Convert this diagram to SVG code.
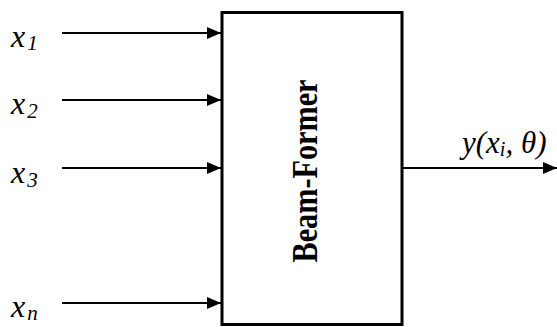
<svg xmlns="http://www.w3.org/2000/svg" width="557" height="327" viewBox="0 0 557 327">
  <defs>
    <marker id="arrow" viewBox="0 0 14 12" refX="14" refY="6" markerWidth="14" markerHeight="12" markerUnits="userSpaceOnUse" orient="auto">
      <path d="M0,0 L14,6 L0,12 Z" fill="#000"/>
    </marker>
  </defs>

  <g id="connectors" stroke="#000" stroke-width="2" fill="none" marker-end="url(#arrow)">
    <line x1="62" y1="33" x2="221" y2="33"/>
    <line x1="62" y1="100" x2="221" y2="100"/>
    <line x1="62" y1="168" x2="221" y2="168"/>
    <line x1="62" y1="303" x2="221" y2="303"/>
    <line x1="403" y1="168" x2="557" y2="168"/>
  </g>

  <g id="beamformer">
    <rect x="222" y="12.5" width="180" height="312" fill="#fff" stroke="#000" stroke-width="3"/>
    <text font-family="Liberation Serif" font-weight="bold" font-size="36" transform="translate(317,171) rotate(-90)" text-anchor="middle" textLength="183" lengthAdjust="spacingAndGlyphs">Beam-Former</text>
  </g>

  <g font-family="Liberation Serif" font-style="italic" font-size="32" fill="#000">
    <g id="input-x1"><text x="11" y="47">x<tspan font-size="21" dx="2" dy="3">1</tspan></text></g>
    <g id="input-x2"><text x="11" y="114">x<tspan font-size="21" dx="2" dy="4">2</tspan></text></g>
    <g id="input-x3"><text x="11" y="183">x<tspan font-size="21" dx="2" dy="4">3</tspan></text></g>
    <g id="input-xn"><text x="11" y="317">x<tspan font-size="21" dx="2" dy="3">n</tspan></text></g>
    <g id="output-y"><text x="462" y="153" font-size="31">y(x<tspan font-size="20" dy="3">i</tspan><tspan dy="-3">, θ)</tspan></text></g>
  </g>
</svg>
